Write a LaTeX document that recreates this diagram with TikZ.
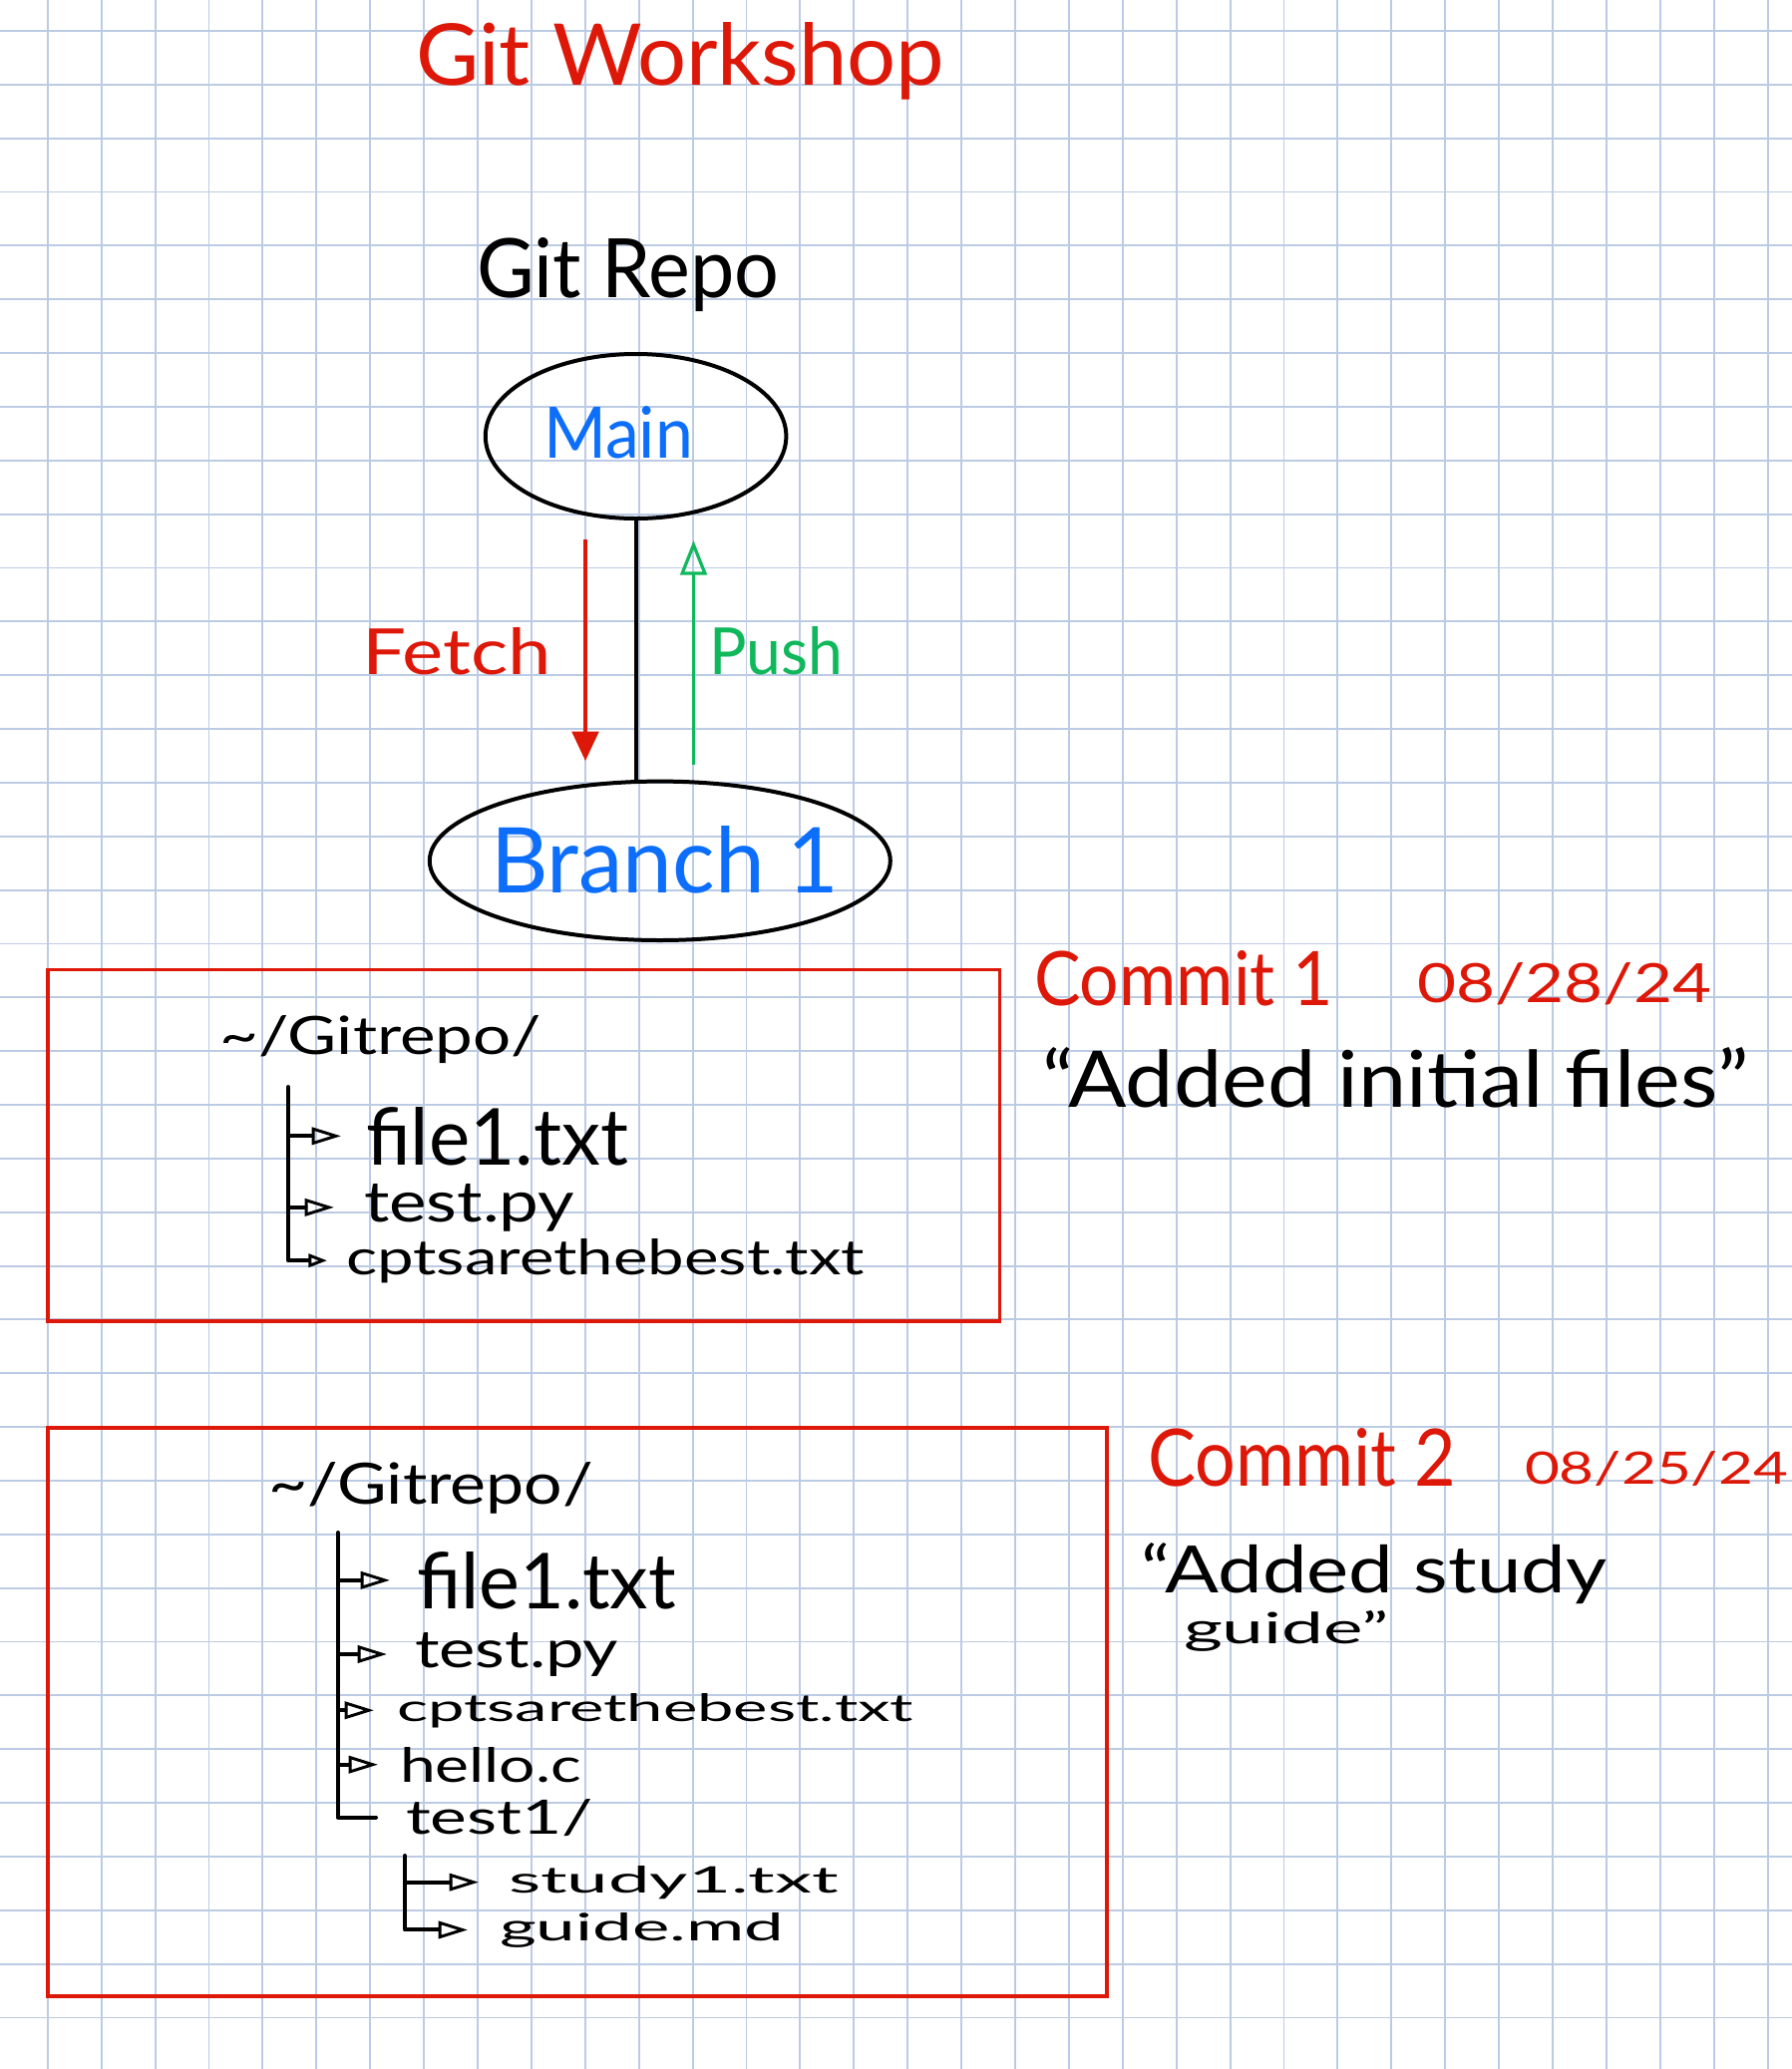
\documentclass[tikz,border=0pt]{standalone}
\usepackage{fontspec}
\setmainfont{Lato}
\usepackage{graphicx}
\usetikzlibrary{arrows.meta,shapes.geometric}
\newlength\pxu \setlength\pxu{0.75pt}
\newcommand\hw[3]{\resizebox{#1\pxu}{#2\pxu}{#3}}
\definecolor{gridc}{RGB}{188,203,228}
\definecolor{inkred}{RGB}{222,24,8}
\definecolor{inkblue}{RGB}{12,110,250}
\definecolor{inkgreen}{RGB}{16,184,92}
\begin{document}
\begin{tikzpicture}[x=0.75pt,y=-0.75pt,
 gridline/.style={draw=gridc,line width=1.4pt},
 txt/.style={anchor=base west,inner sep=0pt,outer sep=0pt},
 oval/.style={ellipse,draw=black,line width=3pt,inner sep=0pt},
 frame/.style={draw=inkred,line width=2.6pt,anchor=north west,inner sep=0pt,outer sep=0pt},
 tree/.style={draw=black,line width=3pt,line cap=round,line join=round},
 leaf/.style={tree,-{Triangle[open,length=22pt,width=13pt,line width=2.2pt]}},
]
\useasboundingbox (0,0) rectangle (1797,2075);
\fill[white] (0,0) rectangle (1797,2075);
% grid
\foreach \k in {0,...,32} \draw[gridline] ({47.8+53.9*\k},0) -- ({47.8+53.9*\k},2075);
\foreach \k in {0,...,37} \draw[gridline] (0,{31+53.85*\k}) -- (1797,{31+53.85*\k});

% title
\node[txt,text=inkred] (title) at (417,85) {\hw{530}{63}{Git Workshop}};
\node[txt] (repo) at (478,298) {\hw{303}{60}{Git Repo}};

% ellipses
\node[oval,minimum width=301.6\pxu,minimum height=165\pxu] (main) at (637.6,437.5) {};
\node[txt,text=inkblue] (mainlbl) at (545,459) {\hw{150}{52}{Main}};
\node[oval,minimum width=462\pxu,minimum height=159.4\pxu] (branch) at (661.8,863.3) {};
\node[txt,text=inkblue] (branchlbl) at (492,895) {\hw{349}{67}{Branch 1}};

\draw[line width=3pt] (main.south) -- (main.south |- branch.north);

\coordinate (fetchtop) at (587,541);
\coordinate (fetchbot) at (587,763);
\coordinate (pushbot) at (695.5,767);
\coordinate (pushtop) at (695.5,542);
\draw[inkred,line width=2.4pt,-{Triangle[length=22pt,width=20pt]}] (fetchtop) -- (fetchbot);
\draw[inkgreen,line width=2.4pt,-{Triangle[open,length=26pt,width=20pt,line width=2.4pt]}] (pushbot) -- (pushtop);
\node[txt,text=inkred] (fetch) at (363,676) {\hw{190}{47}{Fetch}};
\node[txt,text=inkgreen] (push) at (711,676) {\hw{134}{48}{Push}};

% commit 1
\node[frame,minimum width=954.3\pxu,minimum height=352.5\pxu] (box1) at (48.2,972.5) {};
\node[txt] (path1) at (220,1057) {\hw{323}{39}{\textasciitilde/Gitrepo/}};
\node[txt] (f1) at (367,1168) {\hw{263}{58}{file1.txt}};
\node[txt] (p1) at (365,1225) {\hw{211}{38}{test.py}};
\node[txt] (c1) at (347,1278) {\hw{520}{36}{cptsarethebest.txt}};
\coordinate (r1top) at (289,1090);
\draw[leaf,shorten >=25\pxu] (r1top |- f1.west) -- (f1.west);
\draw[leaf,shorten >=30\pxu] (r1top |- p1.west) -- (p1.west);
\draw[tree,-{Triangle[open,length=14pt,width=10pt,line width=2.2pt]},shorten >=19\pxu] (r1top) -- (r1top |- c1.west) -- (c1.west);
\node[txt,text=inkred] (commit1) at (1037,1008) {\hw{300}{55}{Commit 1}};
\node[txt,text=inkred] (date1) at (1421,1005) {\hw{295}{40}{08/28/24}};
\node[txt] (msg1) at (1045,1110) {\hw{708}{60}{“Added initial files”}};

% commit 2
\node[frame,minimum width=1061.8\pxu,minimum height=570\pxu] (box2) at (48.2,1432) {};
\node[txt] (path2) at (269,1508) {\hw{326}{42}{\textasciitilde/Gitrepo/}};
\node[txt] (f2) at (418,1613) {\hw{260}{57}{file1.txt}};
\node[txt] (p2) at (416,1672) {\hw{204}{35}{test.py}};
\node[txt] (c2) at (398,1726) {\hw{518}{28}{cptsarethebest.txt}};
\node[txt] (h2) at (401,1787) {\hw{182}{35}{hello.c}};
\node[txt] (t2) at (407,1839) {\hw{188}{35}{test1/}};
\node[txt] (s2) at (510,1898) {\hw{331}{27}{study1.txt}};
\node[txt] (g2) at (501,1946) {\hw{285}{28}{guide.md}};
\coordinate (r2top) at (339,1537);
\coordinate (r3top) at (406,1861);
\draw[leaf,shorten >=27\pxu] (r2top |- f2.west) -- (f2.west);
\draw[leaf,shorten >=28\pxu] (r2top |- p2.west) -- (p2.west);
\draw[leaf,shorten >=23\pxu] (r2top |- c2.west) -- (c2.west);
\draw[leaf,shorten >=22\pxu] (r2top |- h2.west) -- (h2.west);
\draw[tree,shorten >=30\pxu] (r2top) -- (r2top |- t2.west) -- (t2.west);
\draw[leaf,shorten >=30\pxu] (r3top |- s2.west) -- (s2.west);
\draw[leaf,shorten >=32\pxu] (r3top) -- (r3top |- g2.west) -- (g2.west);
\node[txt,text=inkred] (commit2) at (1151,1490) {\hw{309}{58}{Commit 2}};
\node[txt,text=inkred] (date2) at (1529,1488) {\hw{264}{33}{08/25/24}};
\node[txt] (msg2a) at (1144,1597) {\hw{467}{50}{“Added study}};
\node[txt] (msg2b) at (1187,1648) {\hw{206}{33}{guide”}};
\end{tikzpicture}
\end{document}
